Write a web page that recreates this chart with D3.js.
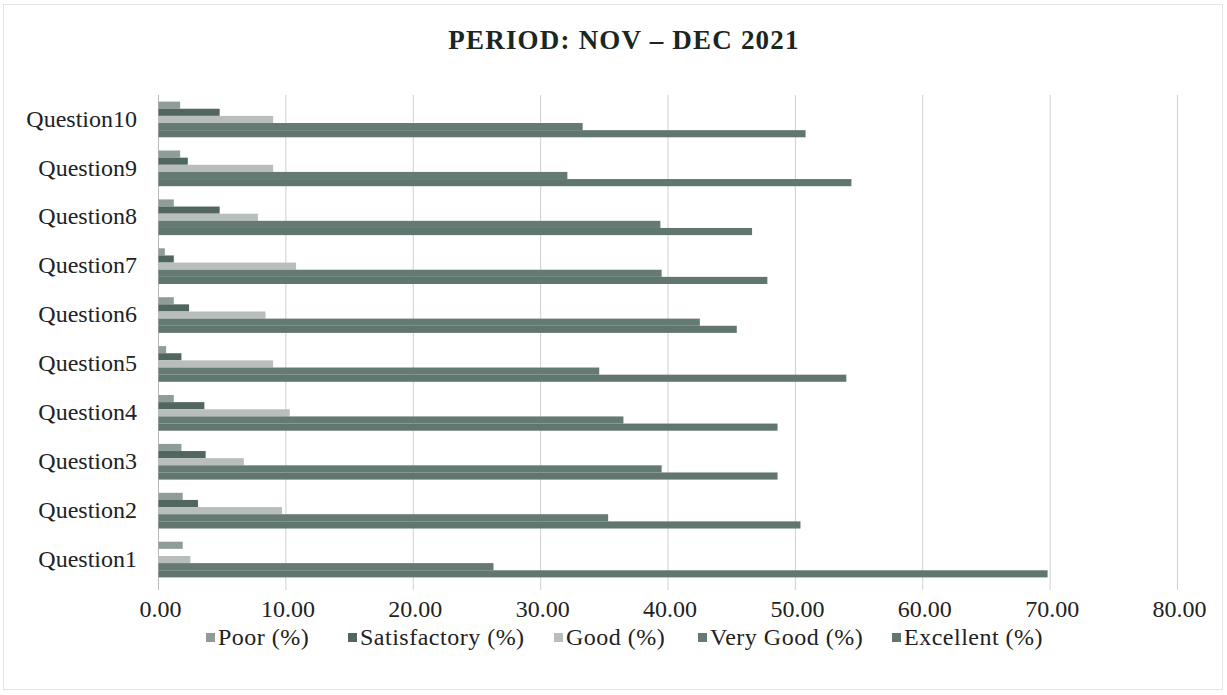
<!DOCTYPE html>
<html><head><meta charset="utf-8">
<script src="https://cdn.jsdelivr.net/npm/d3@7/dist/d3.min.js"></script>
<style>body{margin:0;background:#fff}svg{display:block}text{font-family:'Liberation Serif','Times New Roman',serif}</style>
</head><body><svg id="c" width="1227" height="695"></svg>
<script>
const categories = ["Question1","Question2","Question3","Question4","Question5","Question6","Question7","Question8","Question9","Question10"];
const seriesNames = ["Poor (%)","Satisfactory (%)","Good (%)","Very Good (%)","Excellent (%)"];
const poor         = [1.9, 1.9, 1.8, 1.2, 0.6, 1.2, 0.5, 1.2, 1.7, 1.7];
const satisfactory = [0.0, 3.1, 3.7, 3.6, 1.8, 2.4, 1.2, 4.8, 2.3, 4.8];
const good         = [2.5, 9.7, 6.7, 10.3, 9.0, 8.4, 10.8, 7.8, 9.0, 9.0];
const veryGood     = [26.3, 35.3, 39.5, 36.5, 34.6, 42.5, 39.5, 39.4, 32.1, 33.3];
const excellent    = [69.8, 50.4, 48.6, 48.6, 54.0, 45.4, 47.8, 46.6, 54.4, 50.8];
const xTicks = [0,10,20,30,40,50,60,70,80];
const title = "PERIOD: NOV – DEC 2021";
const colors = ["#8e9d99","#50665f","#b7bebc","#647a73","#61766f"];

const values = [poor, satisfactory, good, veryGood, excellent];
const svg = d3.select("#c");
const font = "'Liberation Serif','Times New Roman',serif";

svg.append("rect").attr("x",3.5).attr("y",4.5).attr("width",1219).attr("height",685)
  .attr("fill","none").attr("stroke","#e4e4e4");

const x = d3.scaleLinear().domain([0,80]).range([158.5,1177.5]);
const y = d3.scaleBand().domain(categories.slice().reverse()).range([95,584]).padding(0);
const step = y.step();
const inner = d3.scaleBand().domain(seriesNames).range([step*0.135, step*0.865]).padding(0);

// gridlines
svg.append("g").selectAll("line").data(xTicks.slice(1)).join("line")
  .attr("x1",d=>x(d)).attr("x2",d=>x(d)).attr("y1",95).attr("y2",590)
  .attr("stroke","#cfcfcf").attr("stroke-width",1);
svg.append("line").attr("x1",x(0)).attr("x2",x(0)).attr("y1",95).attr("y2",590)
  .attr("stroke","#b8b8b8");

// bars
const g = svg.append("g");
categories.forEach((c,i)=>{
  seriesNames.forEach((s,j)=>{
    g.append("rect").attr("x",x(0)).attr("y",y(c)+inner(s))
      .attr("width",x(values[j][i])-x(0)).attr("height",inner.bandwidth())
      .attr("fill",colors[j]);
  });
});

// x axis
const xa = svg.append("g").attr("transform","translate(1.5,0)")
  .call(d3.axisBottom(x).tickValues(xTicks).tickFormat(d3.format(".2f")).tickSize(0).tickPadding(0));
xa.select(".domain").remove();
xa.selectAll("text").attr("y",617).attr("dy",null).style("font-family",font).attr("font-size",24).attr("fill","#222");

// y axis
const ya = svg.append("g").attr("transform","translate(137,0)")
  .call(d3.axisLeft(y).tickSize(0).tickPadding(0));
ya.select(".domain").remove();
ya.selectAll("text").style("font-family",font).attr("font-size",24).attr("dy","0.3em").attr("fill","#222");

// title
svg.append("text").attr("x",624).attr("y",49).attr("text-anchor","middle")
  .style("font-family",font).attr("font-weight","bold").attr("font-size",27)
  .attr("letter-spacing",1.2).attr("fill","#1a2622").text(title);

// legend
const legX = [206, 348, 554, 698, 892];
const leg = svg.append("g");
seriesNames.forEach((s,j)=>{
  leg.append("rect").attr("x",legX[j]).attr("y",633).attr("width",9).attr("height",9).attr("fill",colors[j]);
  leg.append("text").attr("x",legX[j]+12).attr("y",645).style("font-family",font).attr("font-size",24)
    .attr("letter-spacing",0.5).attr("fill","#222").text(s);
});
</script></body></html>
